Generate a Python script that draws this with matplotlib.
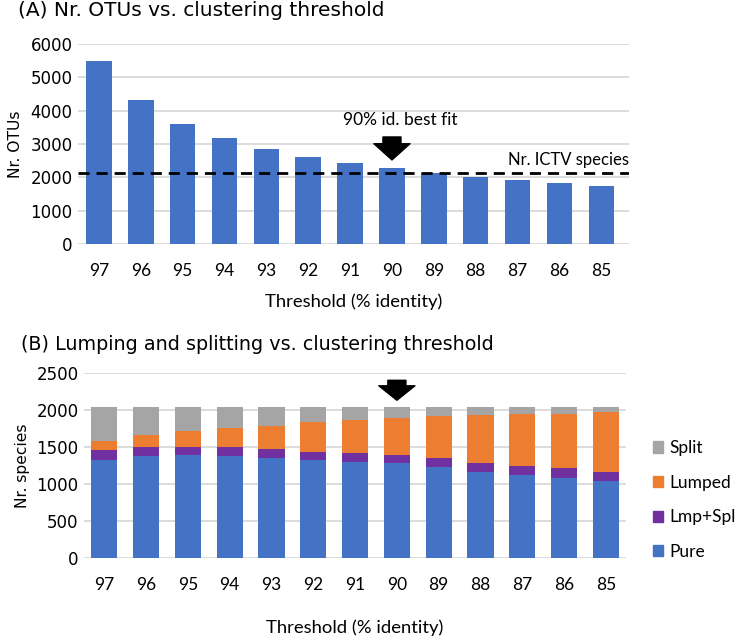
import numpy as np
import matplotlib.pyplot as plt
from matplotlib.patches import Patch

plt.rcParams['font.family'] = ['DejaVu Sans']
narrow = ['Lato', 'DejaVu Sans']  # Calibri-like face for ticks, axis labels, legend

# Data
thresholds = ['97', '96', '95', '94', '93', '92', '91', '90', '89', '88', '87', '86', '85']
nr_otus = [5500, 4330, 3600, 3180, 2850, 2610, 2420, 2270, 2140, 2020, 1930, 1830, 1750]
ictv_species = 2140

pure = [1333, 1378, 1392, 1387, 1360, 1333, 1306, 1284, 1234, 1167, 1117, 1081, 1041]
lmp_spl = [131, 122, 117, 113, 122, 108, 113, 108, 113, 117, 122, 131, 126]
lumped = [113, 158, 207, 266, 311, 397, 455, 509, 572, 649, 707, 743, 806]
split = [468, 387, 329, 279, 252, 207, 171, 144, 126, 112, 99, 90, 72]

blue = '#4472C4'
orange = '#ED7D31'
purple = '#7030A0'
grey = '#A5A5A5'
gridc = '#D9D9D9'

x = np.arange(len(thresholds))

fig = plt.figure(figsize=(7.39, 6.37), dpi=100)

def style(ax):
    for s in ax.spines.values():
        s.set_visible(False)
    ax.yaxis.grid(True, color=gridc, linewidth=1.3)
    ax.set_axisbelow(True)
    ax.tick_params(axis='both', length=0)
    ax.tick_params(axis='x', pad=13.5, labelsize=12.5, labelfontfamily=narrow)
    ax.tick_params(axis='y', pad=4, labelsize=12)

# (A) top panel
ax1 = fig.add_axes([0.1055, 0.617, 0.745, 0.314])
ax1.bar(x, nr_otus, width=0.61, color=blue)
ax1.axhline(ictv_species, color='black', linestyle=(0, (4, 2.5)), linewidth=2)
ax1.set_ylim(0, 6000)
ax1.set_xlim(-0.5, 12.65)
ax1.set_yticks(np.arange(0, 6001, 1000))
ax1.set_xticks(x)
ax1.set_xticklabels(thresholds)
style(ax1)
ax1.set_xlabel('Threshold (% identity)', fontsize=13.3, family=narrow, labelpad=10.5)
ax1.set_ylabel('Nr. OTUs', fontsize=11.2, labelpad=5)
ax1.text(12.65, 2520, 'Nr. ICTV species', ha='right', va='center', fontsize=12, family=narrow)
ax1.text(7.2, 3720, '90% id. best fit', ha='center', va='center', fontsize=12.5, family=narrow)
ax1.annotate('', xy=(7, 2520), xytext=(7, 3210),
             arrowprops=dict(arrowstyle='simple,head_length=0.45,head_width=1.0,tail_width=0.5',
                             color='black', mutation_scale=26, shrinkA=0, shrinkB=0))
fig.text(0.024, 1 - 16 / 637, '(A) Nr. OTUs vs. clustering threshold', fontsize=14.5, va='baseline')

# (B) bottom panel
ax2 = fig.add_axes([0.114, 0.124, 0.733, 0.290])
b1 = np.array(pure)
b2 = b1 + np.array(lmp_spl)
b3 = b2 + np.array(lumped)
ax2.bar(x, pure, width=0.63, color=blue)
ax2.bar(x, lmp_spl, width=0.63, bottom=b1, color=purple)
ax2.bar(x, lumped, width=0.63, bottom=b2, color=orange)
ax2.bar(x, split, width=0.63, bottom=b3, color=grey)
ax2.set_ylim(0, 2500)
ax2.set_xlim(-0.48, 12.48)
ax2.set_yticks(np.arange(0, 2501, 500))
ax2.set_xticks(x)
ax2.set_xticklabels(thresholds)
style(ax2)
ax2.set_xlabel('Threshold (% identity)', fontsize=13.3, family=narrow, labelpad=19.5)
ax2.set_ylabel('Nr. species', fontsize=11.2, labelpad=5)
ax2.annotate('', xy=(7, 2135), xytext=(7, 2405),
             arrowprops=dict(arrowstyle='simple,head_length=0.4,head_width=1.0,tail_width=0.5',
                             color='black', mutation_scale=26, shrinkA=0, shrinkB=0))
fig.text(0.029, 1 - 350 / 637, '(B) Lumping and splitting vs. clustering threshold',
         fontsize=13.8, va='baseline')

handles = [Patch(color=grey, label='Split'), Patch(color=orange, label='Lumped'),
           Patch(color=purple, label='Lmp+Spl'), Patch(color=blue, label='Pure')]
fig.legend(handles=handles, loc='center left', bbox_to_anchor=(0.883, 0.215),
           frameon=False, prop={'family': narrow, 'size': 12.5},
           handlelength=0.63, handleheight=0.63, handletextpad=0.35,
           labelspacing=1.07, borderpad=0, borderaxespad=0)

fig.savefig('out.png', dpi=100)
